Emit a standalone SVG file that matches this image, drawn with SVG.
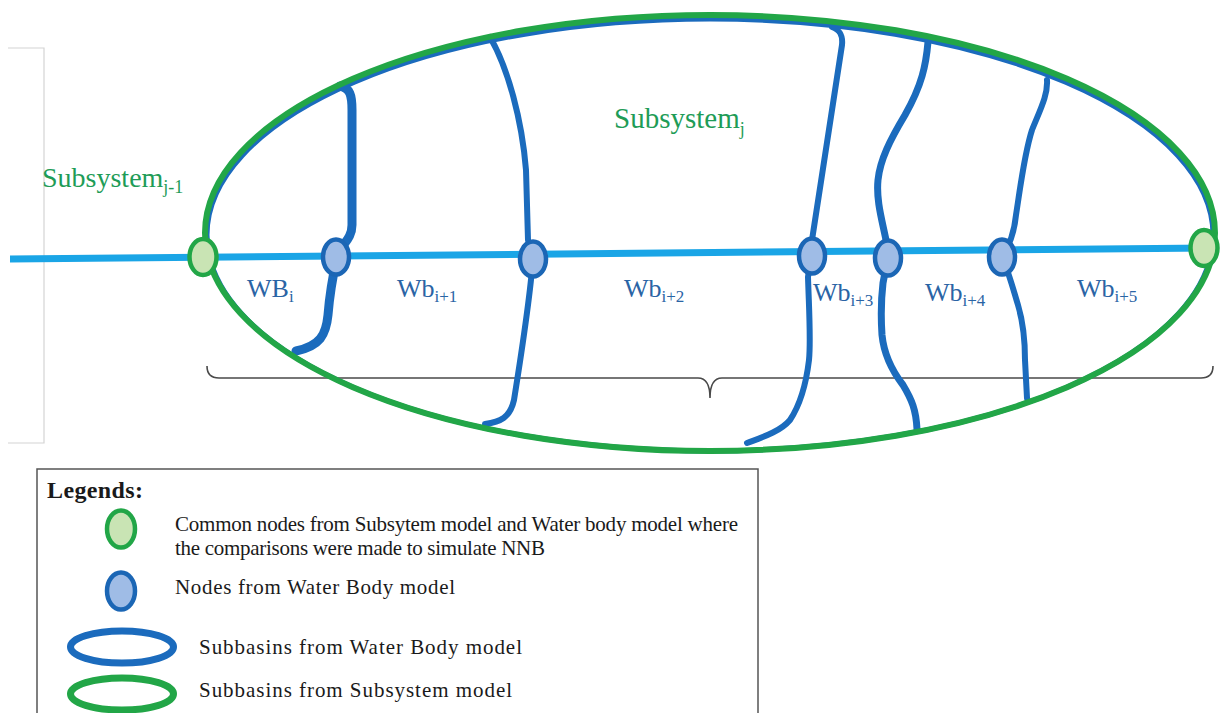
<svg xmlns="http://www.w3.org/2000/svg" width="1220" height="713" viewBox="0 0 1220 713">
<style>
.bg{fill:#ffffff}
.wbline{fill:none;stroke:#1B6BBD;stroke-linecap:round;stroke-linejoin:round}
.river{fill:none;stroke:#1AA5E6;stroke-width:7}
.gring{fill:none;stroke:#22A647;stroke-width:6}
.bring{fill:none;stroke:#1B6BBD;stroke-width:5}
.gnode{fill:#C9E4B4;stroke:#22A647;stroke-width:4.5}
.bnode{fill:#9FBCE6;stroke:#1B66B5;stroke-width:4.5}
.brace{fill:none;stroke:#4a4a4a;stroke-width:1.6}
.lbl{font-family:"Liberation Serif",serif;fill:#2A64A5;font-size:26px}
.sub{font-size:17px}
.ss{font-family:"Liberation Serif",serif;fill:#1E9C57}
.leg{font-family:"Liberation Serif",serif;fill:#1a1a1a;font-size:21px}
</style>
<rect class="bg" x="0" y="0" width="1220" height="713"/>
<path d="M8,48 H44 V443 H8" fill="none" stroke="#d4d4d4" stroke-width="1.2"/>
<g id="brace">
<path class="brace" d="M207,366 Q207,378 219,378 H698 Q710,378 710,398 Q710,378 722,378 H1201 Q1213,378 1213,366"/>
</g>
<g id="subbasin-water-body-outline">
<ellipse class="bring" cx="710" cy="235" rx="503" ry="216"/>
</g>
<g id="connectors">
<path class="wbline" stroke-width="9" d="M340,86 C350,88 352,95 352,110 L352,225 C352,240 340,245 337,257 C333,275 330,290 328,315 C326,335 320,346 296,351"/>
<path class="wbline" stroke-width="6" d="M490,37 C508,68 522,120 526,170 L528,240 L533,258 C530,300 522,350 514,400 C510,418 500,422 485,424"/>
<path class="wbline" stroke-width="6" d="M832,27 C840,30 843,35 842,45 L812,240 L811,257 L808,277 C809,310 811,340 809,360 C806,385 800,405 790,420 C780,432 760,438 747,443"/>
<path class="wbline" stroke-width="7" d="M928,42 C926,65 922,85 905,115 C890,140 880,160 878,180 C876,200 882,220 886,240 L888,257 L883,283 C881,300 881,320 882,335 C884,355 893,372 903,385 C912,400 916,410 917,429"/>
<path class="wbline" stroke-width="6" d="M1047,80 C1048,95 1040,110 1032,130 C1024,155 1020,190 1016,215 C1014,235 1008,248 1002,257 C1008,270 1012,285 1018,305 C1024,325 1025,345 1025,360 L1027,398"/>
<line class="river" x1="10" y1="259" x2="1210" y2="248"/>
</g>
<g id="subsystem-j">
<ellipse class="gring" cx="710" cy="233" rx="505" ry="218"/>
</g>
<g id="node-common-left"><ellipse class="gnode" cx="203" cy="257" rx="13.5" ry="18"/></g>
<g id="node-wb1"><ellipse class="bnode" cx="336" cy="257" rx="13" ry="17.5"/></g>
<g id="node-wb2"><ellipse class="bnode" cx="533" cy="259" rx="13" ry="17.5"/></g>
<g id="node-wb3"><ellipse class="bnode" cx="812" cy="256" rx="13" ry="17.5"/></g>
<g id="node-wb4"><ellipse class="bnode" cx="888" cy="258" rx="13" ry="17.5"/></g>
<g id="node-wb5"><ellipse class="bnode" cx="1002" cy="257" rx="13" ry="17.5"/></g>
<g id="node-common-right"><ellipse class="gnode" cx="1204" cy="248" rx="13.5" ry="18"/></g>
<g id="labels">
<text class="ss" x="42" y="187" font-size="28">Subsystem<tspan font-size="18" dy="6">j-1</tspan></text>
<text class="ss" x="614" y="128" font-size="29">Subsystem<tspan font-size="18" dy="7">j</tspan></text>
<text class="lbl" x="247" y="297">WB<tspan class="sub" dy="5">i</tspan></text>
<text class="lbl" x="397" y="297">Wb<tspan class="sub" dy="5">i+1</tspan></text>
<text class="lbl" x="624" y="297">Wb<tspan class="sub" dy="5">i+2</tspan></text>
<text class="lbl" x="813" y="301">Wb<tspan class="sub" dy="5">i+3</tspan></text>
<text class="lbl" x="925" y="301">Wb<tspan class="sub" dy="5">i+4</tspan></text>
<text class="lbl" x="1077" y="297">Wb<tspan class="sub" dy="5">i+5</tspan></text>
</g>
<g id="legend">
<rect x="37" y="469" width="721" height="260" fill="#ffffff" stroke="#555555" stroke-width="1.5"/>
<text class="leg" x="47" y="498" font-weight="bold" style="font-size:24px" textLength="96">Legends:</text>
<ellipse class="gnode" cx="121" cy="529" rx="14" ry="18.5"/>
<text class="leg" x="175" y="531" textLength="563">Common nodes from Subsytem model and Water body model where</text>
<text class="leg" x="175" y="555" textLength="370">the comparisons were made to simulate NNB</text>
<ellipse class="bnode" cx="121" cy="591" rx="14" ry="18.5"/>
<text class="leg" x="175" y="594" textLength="280">Nodes from Water Body model</text>
<ellipse cx="122" cy="647" rx="51.5" ry="16" fill="none" stroke="#1B6BBD" stroke-width="7"/>
<text class="leg" x="199" y="654" textLength="323">Subbasins from Water Body model</text>
<ellipse cx="122" cy="694" rx="51.5" ry="16" fill="none" stroke="#22A647" stroke-width="7"/>
<text class="leg" x="199" y="697" textLength="313">Subbasins from Subsystem model</text>
</g>
</svg>
